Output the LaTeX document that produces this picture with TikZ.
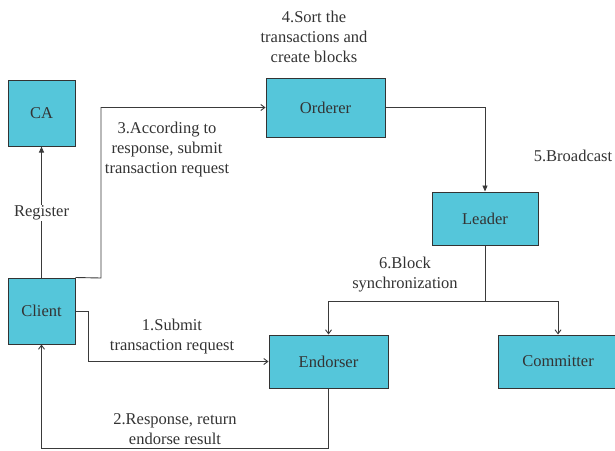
\documentclass[tikz,border=0pt]{standalone}
\usepackage{fontspec}
\setmainfont{Liberation Serif}
\newfontfamily\labelfont{Liberation Serif}
\usetikzlibrary{arrows.meta}
\definecolor{boxfill}{HTML}{55C6DA}
\definecolor{ink}{HTML}{333333}
\definecolor{wire}{HTML}{3A3A3A}
\begin{document}
\begin{tikzpicture}[x=1pt,y=-1pt,
  every node/.style={font=\labelfont\fontsize{16.5}{20}\selectfont, text=ink},
  unit/.style={draw=ink, line width=1pt, fill=boxfill, inner sep=0pt},
  lbl/.style={align=center, inner sep=1pt},
  link/.style={draw=wire, line width=0.9pt},
  solidtip/.style={link, -{Triangle[length=6pt,width=5pt]}},
  opentip/.style={link, -{Straight Barb[length=4pt,width=6pt]}}]
\useasboundingbox (0,0) rectangle (615,450);

% components
\node[unit, minimum width=67pt, minimum height=66pt] (ca) at (41.5,113) {CA};
\node[unit, minimum width=67pt, minimum height=66pt] (client) at (41.5,311) {Client};
\node[unit, minimum width=119pt, minimum height=59pt] (orderer) at (325.5,107.5) {Orderer};
\node[unit, minimum width=106pt, minimum height=53pt] (leader) at (485,218.5) {Leader};
\node[unit, minimum width=119pt, minimum height=53pt] (endorser) at (328.5,361.5) {Endorser};
\node[unit, minimum width=120pt, minimum height=53pt] (committer) at (558,361.5) {Committer};

% routing points
\coordinate (c3a) at (101,278);
\coordinate (split) at (485,301);
\coordinate (splitL) at (328.5,301);
\coordinate (splitR) at (558,301);
\coordinate (c1a) at (88,311);
\coordinate (c2a) at (328.5,448);

% registration
\draw[solidtip] (client.north) -- (ca.south);
\node[lbl, fill=white] (reg) at (41.5,213) {Register};

% 1. submit to endorser
\draw[opentip] (client.east) -- (c1a) |- (endorser.west);
\node[lbl] (l1) at (172,337) {1.Submit\\transaction request};

% 2. endorsement response
\draw[opentip] (endorser.south) -- (c2a) -| (client.south);
\node[lbl] (l2) at (175,429) {2.Response, return\\endorse result};

% 3. submit to orderer
\draw[opentip] (client.north east) -- (c3a) |- (orderer.west);
\node[lbl] (l3) at (167,150) {3.According to\\response, submit\\transaction request};

% 4. ordering
\node[lbl] (l4) at (314,37) {4.Sort the\\transactions and\\create blocks};

% 5. broadcast
\draw[solidtip] (orderer.east) -| (leader.north);
\node[lbl] (l5) at (573,156) {5.Broadcast};

% 6. block synchronization
\draw[link] (leader.south) -- (split);
\draw[link] (splitL) -- (splitR);
\draw[opentip] (splitL) -- (endorser.north);
\draw[opentip] (splitR) -- (committer.north);
\node[lbl] (l6) at (405,275) {6.Block\\synchronization};
\end{tikzpicture}
\end{document}
